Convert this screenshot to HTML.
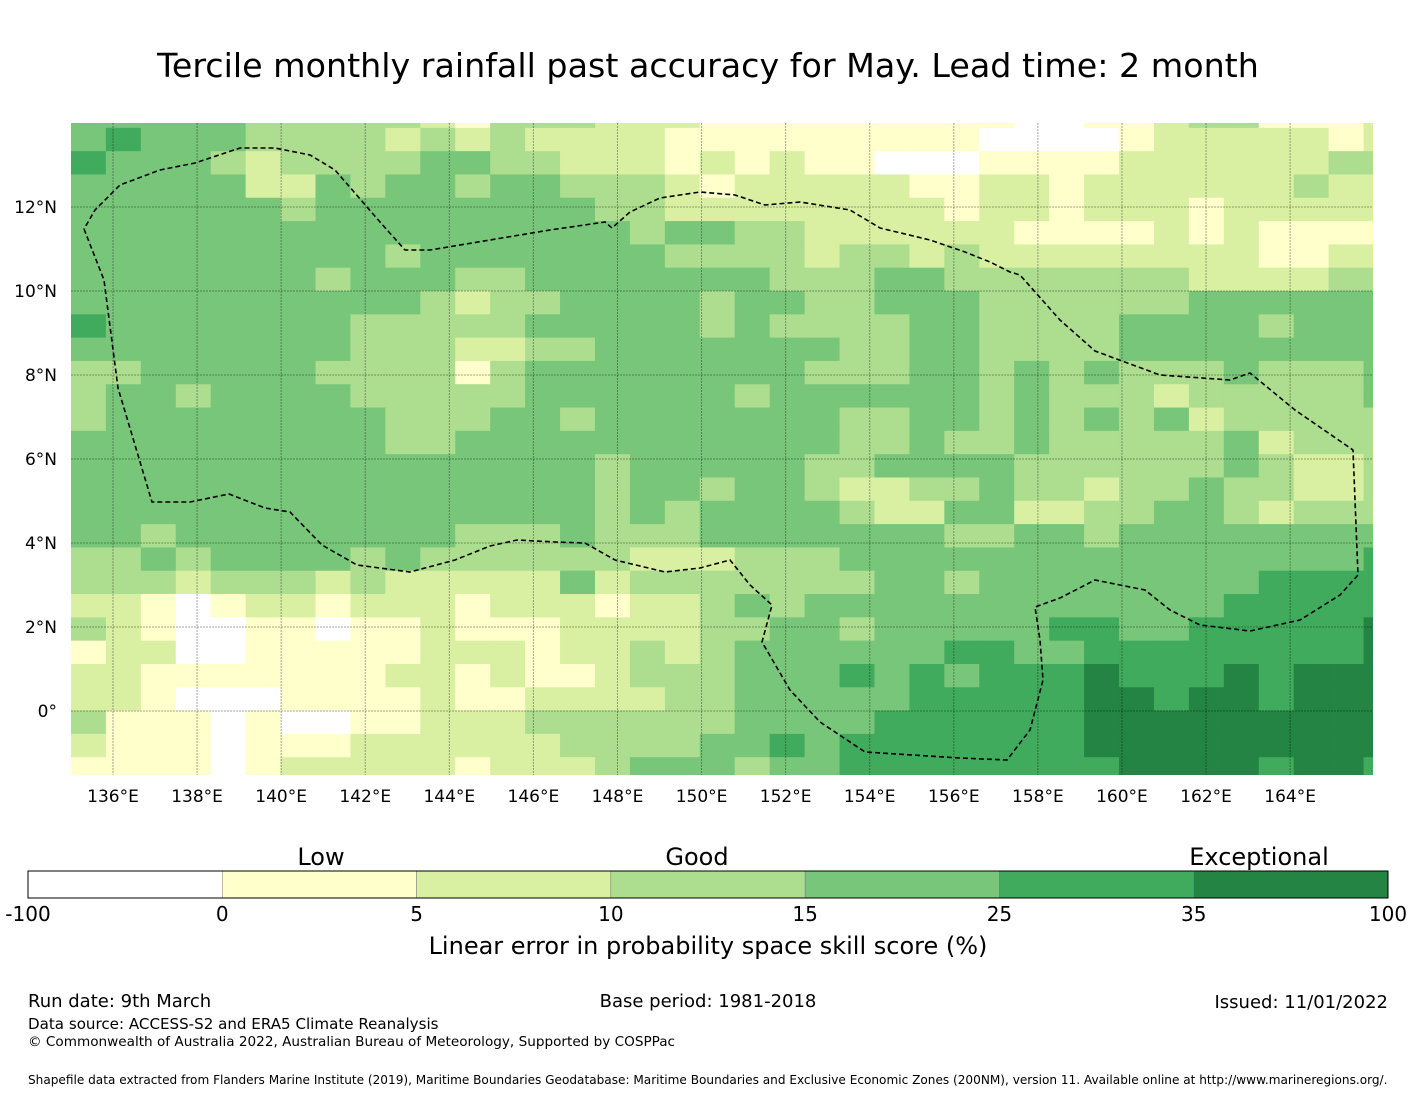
<!DOCTYPE html>
<html><head><meta charset="utf-8"><style>
body{margin:0;background:#fff;width:1416px;height:1095px;overflow:hidden;font-family:"Liberation Sans","DejaVu Sans",sans-serif}
svg text{font-family:"DejaVu Sans","Liberation Sans",sans-serif;fill:#000}
</style></head><body>
<svg id="chart" width="1416" height="1095" viewBox="0 0 1416 1095" xmlns="http://www.w3.org/2000/svg">
<text x="708" y="77" font-size="33.3" text-anchor="middle">Tercile monthly rainfall past accuracy for May. Lead time: 2 month</text>
<defs><clipPath id="mapclip"><rect x="71" y="123" width="1302" height="652"/></clipPath></defs>
<g id="cells" clip-path="url(#mapclip)"></g>
<g id="grid" clip-path="url(#mapclip)"></g>
<path id="eez" fill="none" stroke="#000" stroke-width="1.6" stroke-dasharray="5,3"/>
<g id="xticks"></g>
<g id="yticks"></g>
<g id="cbar"></g>
<text x="321" y="865" font-size="24" text-anchor="middle">Low</text>
<text x="697" y="865" font-size="24" text-anchor="middle">Good</text>
<text x="1259" y="865" font-size="24" text-anchor="middle">Exceptional</text>
<text x="708" y="954" font-size="24" text-anchor="middle">Linear error in probability space skill score (%)</text>
<text x="28" y="1007" font-size="18">Run date: 9th March</text>
<text x="708" y="1007" font-size="18" text-anchor="middle">Base period: 1981-2018</text>
<text x="1388" y="1008" font-size="18" text-anchor="end">Issued: 11/01/2022</text>
<text x="28" y="1029" font-size="15.1">Data source: ACCESS-S2 and ERA5 Climate Reanalysis</text>
<text x="28" y="1046" font-size="13.6">© Commonwealth of Australia 2022, Australian Bureau of Meteorology, Supported by COSPPac</text>
<text x="28" y="1084" font-size="12.1">Shapefile data extracted from Flanders Marine Institute (2019), Maritime Boundaries Geodatabase: Maritime Boundaries and Exclusive Economic Zones (200NM), version 11. Available online at http://www.marineregions.org/.</text>
</svg>
<script>
// Skill class per cell (0=<0,1=0-5,2=5-10,3=10-15,4=15-25,5=25-35,6=35-100), rows north->south, cols west->east
const skillRows = [
"4444433333213"+"332221111111"+"1100112331112",
"4544433332323"+"222211111111"+"1000012222212",
"5444323333443"+"322212121100"+"0111122222233",
"4444422434434"+"433321222221"+"1221222222322",
"4444443444444"+"443322222222"+"1221222122222",
"4444444444444"+"444344332222"+"2211112121111",
"4444444443444"+"444433332332"+"3222222221122",
"4444444344433"+"444444433344"+"3333333222233",
"4444444444323"+"344443443344"+"4333333444444",
"5444444433333"+"444443433334"+"4333344443444",
"4444444433322"+"334444444334"+"4333344444444",
"3344444333313"+"444444443334"+"4343433343334",
"3443444433333"+"444444344444"+"4343332333334",
"3444444443334"+"434444444334"+"4343434233333",
"4444444443344"+"444444444334"+"3343333342333",
"4444444444444"+"443444443344"+"4433333343223",
"4444444444444"+"443443443223"+"3433233433223",
"4444444444444"+"443434444322"+"4422334432333",
"4434444444433"+"343334444444"+"3344344444444",
"3343444434333"+"333222333444"+"4444444444445",
"3332333232222"+"242333333344"+"3444444445555",
"2210122122212"+"221223434444"+"4444444455555",
"3210011011211"+"122223344344"+"4445544555556",
"1220011111222"+"122323444444"+"5544555555556",
"2211111112212"+"112333444545"+"4555655565666",
"2210001111211"+"222233444445"+"5555665665666",
"3111010011222"+"333333444455"+"5555666666666",
"2111011122222"+"233334454555"+"5555666666666",
"1111012222212"+"223444344555"+"5555566665665"
];
const classColors = ["#ffffff","#ffffcc","#d9f0a3","#addd8e","#78c679","#41ab5d","#238443"];
const cbarTicks = ["-100","0","5","10","15","25","35","100"];
const lonTicks = [136,138,140,142,144,146,148,150,152,154,156,158,160,162,164];
const latTicks = [0,2,4,6,8,10,12];
const cellLon0 = 135.0, cellDLon = 0.831, cellLat0 = 14.44, cellDLat = 0.555;

const NS="http://www.w3.org/2000/svg";
const pxPerDeg = 42.04;
function xScale(lon){return 113 + (lon-136)*pxPerDeg;}
function yScale(lat){return 711 - lat*42.0;}
function mk(tag,attrs,parent){const e=document.createElementNS(NS,tag);for(const k in attrs)e.setAttribute(k,attrs[k]);parent.appendChild(e);return e;}

const cells=document.getElementById('cells');
skillRows.forEach((row,r)=>{
  for(let c=0;c<row.length;c++){
    const lonL=cellLon0+c*cellDLon, latT=cellLat0-r*cellDLat;
    const x0=xScale(lonL), x1=xScale(lonL+cellDLon), y0=yScale(latT), y1=yScale(latT-cellDLat);
    const e=mk('rect',{x:x0.toFixed(2),y:y0.toFixed(2),width:(x1-x0+0.6).toFixed(2),height:(y1-y0+0.6).toFixed(2),fill:classColors[+row[c]]},cells);
    
    
  }
});

const grid=document.getElementById('grid'), xt=document.getElementById('xticks'), yt=document.getElementById('yticks');
lonTicks.forEach(l=>{
  const x=xScale(l);
  mk('line',{x1:x,y1:123,x2:x,y2:775,stroke:"#000","stroke-opacity":0.35,"stroke-width":1,"stroke-dasharray":"2,1"},grid);
  const t=mk('text',{x:x,y:802,"font-size":17,"text-anchor":"middle"},xt);
  t.textContent=l+"°E";
  
  
});
latTicks.forEach(l=>{
  const y=yScale(l);
  mk('line',{x1:71,y1:y,x2:1373,y2:y,stroke:"#000","stroke-opacity":0.35,"stroke-width":1,"stroke-dasharray":"2,1"},grid);
  const t=mk('text',{x:57,y:y+6,"font-size":17,"text-anchor":"end"},yt);
  t.textContent=l===0?"0°":l+"°N";
  
  
});

const eezPts=[[84,229],[104,280],[118,388],[152,502],[190,502],[229,494],[265,508],[290,512],[322,545],[357,565],[410,572],[455,560],[490,546],[517,540],[555,542],[585,543],[615,560],[665,572],[700,568],[730,560],[750,585],[772,605],[762,642],[790,690],[820,722],[865,752],[960,758],[1007,760],[1030,730],[1043,680],[1040,640],[1035,607],[1060,598],[1095,580],[1145,590],[1170,610],[1200,625],[1250,631],[1300,620],[1340,595],[1358,575],[1353,450],[1295,410],[1250,373],[1230,380],[1160,375],[1095,351],[1060,320],[1020,275],[1010,272],[990,262],[965,252],[930,240],[880,228],[850,210],[800,202],[765,205],[735,195],[700,192],[660,198],[630,212],[612,228],[605,222],[550,230],[430,250],[405,250],[380,222],[335,170],[310,155],[275,148],[240,148],[195,163],[160,170],[120,185],[95,210],[84,229]];
document.getElementById('eez').setAttribute('d','M'+eezPts.map(p=>p.join(',')).join(' L'));

const cb=document.getElementById('cbar');
const cbX=28,cbW=1360,cbY=871,cbH=27,seg=cbW/7;
classColors.forEach((col,i)=>{
  const e=mk('rect',{x:cbX+i*seg,y:cbY,width:seg,height:cbH,fill:col,stroke:"#777","stroke-width":0.5},cb);
  
  
});
mk('rect',{x:cbX,y:cbY,width:cbW,height:cbH,fill:"none",stroke:"#000","stroke-width":1},cb);
cbarTicks.forEach((t,i)=>{
  const e=mk('text',{x:cbX+i*seg,y:921,"font-size":20,"text-anchor":"middle"},cb);
  e.textContent=t;
  
  
});
</script>
</body></html>
